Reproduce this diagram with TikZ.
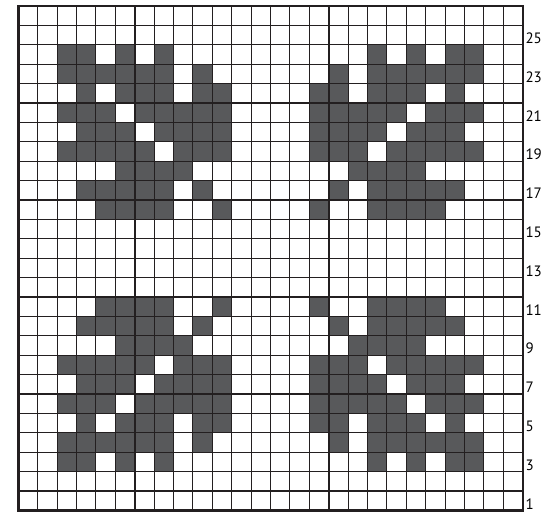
\documentclass[tikz,border=0pt]{standalone}
\usepackage{fontspec}
\newfontfamily\chartfont{PT Sans}
\usepackage{tikz}
\definecolor{stitchgray}{RGB}{88,89,91}
\definecolor{gridblack}{RGB}{35,31,32}
\tikzset{
  stitch/.style={fill=stitchgray},
  thinline/.style={draw=gridblack, line width=1.1pt},
  thickline/.style={draw=gridblack, line width=1.6pt},
  rowno/.style={anchor=base west, inner sep=0pt, xshift=2.6pt, yshift=1.2pt, font=\chartfont\fontsize{15}{18}\selectfont}
}
\begin{document}
\begin{tikzpicture}[x=1pt,y=1pt]
\useasboundingbox (0,0) rectangle (544,512);
\begin{scope}[shift={(18.3,1.6)},x=19.4pt,y=19.4pt]
\foreach \r/\cols in {24/{3,4,6,8},23/{3,4,5,6,7,8,10},22/{4,6,7,8,10,11},
  21/{3,4,5,7,8,9,10,11},20/{4,5,6,8,9,10,11},19/{3,4,5,6,7,9,10,11},
  18/{6,7,8,9},17/{4,5,6,7,8,10},16/{5,6,7,8,11}} {
  \foreach \c in \cols {
    \fill[stitch] (\c-1,\r-1) rectangle (\c,\r);
    \fill[stitch] (26-\c,\r-1) rectangle (27-\c,\r);
    \fill[stitch] (\c-1,26-\r) rectangle (\c,27-\r);
    \fill[stitch] (26-\c,26-\r) rectangle (27-\c,27-\r);
  }
}
\foreach \i in {1,...,25} {
  \draw[thinline] (\i,0) -- (\i,26);
  \draw[thinline] (0,\i) -- (26,\i);
}
\foreach \i in {6,16} \draw[thickline] (\i,0) -- (\i,26);
\foreach \j in {10,20} \draw[thickline] (0,\j) -- (26,\j);
\draw[draw=gridblack, line width=2.4pt] (0,0) rectangle (26,26);
\foreach \r in {1,3,...,25} \node[rowno] (row\r) at (26,\r-1) {\r};
\end{scope}
\end{tikzpicture}
\end{document}
